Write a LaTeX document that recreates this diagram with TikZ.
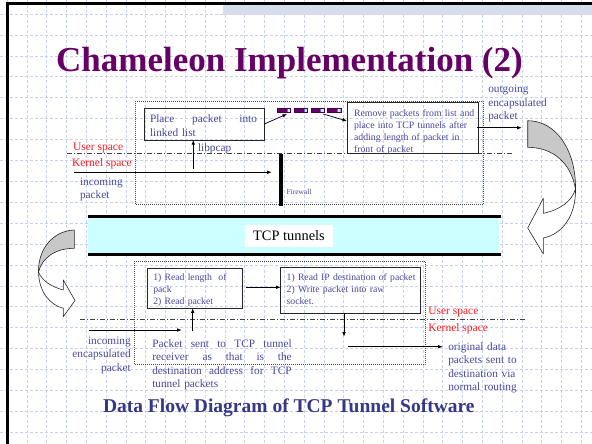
\documentclass[tikz,border=0pt]{standalone}
\usepackage{fontspec}
\setmainfont{Liberation Serif}
\usetikzlibrary{arrows.meta}
\definecolor{titlepurple}{HTML}{660066}
\definecolor{labelblue}{HTML}{48489A}
\definecolor{footblue}{HTML}{373787}
\definecolor{spacered}{HTML}{FF1A1A}
\definecolor{tunnelcyan}{HTML}{CCFFFF}
\definecolor{gridblue}{HTML}{C8D2F0}
\definecolor{bandgray}{HTML}{D5DCEC}
\definecolor{arrowgray}{HTML}{C8C8C8}
\definecolor{cellend}{HTML}{BFEFFF}
% a full-width line whose words are spread apart
\newcommand{\spreadline}[1]{\leavevmode\hbox to \linewidth{#1}}
\begin{document}
\begin{tikzpicture}[x=1pt,y=-1pt,
  every node/.style={inner sep=0pt,outer sep=0pt},
  lbl/.style={text=labelblue,font=\fontsize{11.3}{13.6}\selectfont,anchor=base west},
  smalllbl/.style={text=labelblue,font=\fontsize{9.7}{12.3}\selectfont,anchor=base west},
  spacelbl/.style={text=spacered,font=\fontsize{11.5}{13.6}\selectfont,anchor=base west},
  procbox/.style={draw=black!85,line width=0.7pt,anchor=north west},
  zone/.style={draw=black!70,line width=0.5pt,dash pattern=on 1pt off 1pt},
  spacesep/.style={draw=black!75,line width=0.6pt,dash pattern=on 5pt off 2pt on 1pt off 2pt},
  flow/.style={-{Latex[length=4.5pt,width=3.5pt]},line width=0.7pt},
  bendarrow/.style={draw=black!85,line width=0.6pt,line join=round},
  listcell/.style={draw=titlepurple!70!black,fill=titlepurple,line width=0.3pt,
    minimum width=13.3pt,minimum height=4pt,anchor=north west,
    path picture={\fill[cellend,draw=blue!60] ([xshift=-3.5pt]path picture bounding box.north east) rectangle (path picture bounding box.south east);}},
]
\useasboundingbox (0,0) rectangle (592,444);
\fill[white] (0,0) rectangle (592,444);

% background grid
\foreach \gx in {7.1,26.9,...,592}
  \draw[gridblue,line width=0.6pt,dash pattern=on 3pt off 2pt] (\gx,0) -- (\gx,444);
\foreach \gy in {14.1,35,...,444}
  \draw[gridblue,line width=0.6pt,dash pattern=on 3pt off 2pt] (0,\gy) -- (592,\gy);

% slide frame and top band
\fill[bandgray] (223,5) rectangle (592,15);
\draw[line width=2.5pt] (7.5,3.5) -- (7.5,444);
\draw[line width=2.5pt] (6.25,3.5) -- (592,3.5);

% title
\node[font=\fontsize{35}{40}\selectfont\bfseries,text=titlepurple,anchor=base] (title) at (289.5,72) {Chameleon Implementation (2)};

% ---------- sending side ----------
\draw[zone] (135,101) rectangle (483,204.5);
\draw[spacesep] (67,153.3) -- (513,153.3);

\node[procbox,minimum width=120pt,minimum height=31.7pt] (placebox) at (144,108.3) {};
\node[lbl,text width=107pt,align=left] (placetext) at (150,122.5)
  {\spreadline{Place\hfill packet\hfill into}\\linked list};

\node[listcell] (blk1) at (277,107.7) {};
\node[listcell] (blk2) at (294,107.7) {};
\node[listcell] (blk3) at (310.7,107.7) {};
\node[listcell] (blk4) at (327.4,107.7) {};

\node[procbox,minimum width=131pt,minimum height=50.6pt] (removebox) at (347.3,102.7) {};
\node[text=labelblue,font=\fontsize{9.8}{12.2}\selectfont,anchor=base west,text width=140pt,align=left] (removetext) at (354,116)
  {Remove packets from list and\\place into TCP tunnels after\\adding length of packet in\\front of packet};

\coordinate (listin) at (287,114);
\coordinate (listout) at (323.3,114);
\coordinate (removein) at (347,121);
\draw[flow] (placebox.east) -- (listin);
\draw[flow] (listout) -- (removein);

\coordinate (outstart) at (477,127.7);
\coordinate (outend) at (521.7,127.7);
\draw[flow] (outstart) -- (outend);
\node[lbl,text width=70pt,align=left] (outgoing) at (488.3,92.5) {outgoing\\encapsulated\\packet};

\node[spacelbl] (userup) at (73,150) {User space};
\node[spacelbl] (kernelup) at (72,166) {Kernel space};
\node[lbl,text width=50pt,align=left] (incomingup) at (80,185) {incoming\\packet};

\coordinate (inup) at (74,172.3);
\coordinate (fwhit) at (271.7,172.3);
\draw[flow] (inup) -- (fwhit);

\coordinate (pcapfoot) at (193.3,169);
\draw[flow] (pcapfoot) -- (pcapfoot |- placebox.south);
\node[lbl] (libpcap) at (198,151) {libpcap};

\node[fill=black,minimum width=4pt,minimum height=52pt,anchor=north] (firewall) at (280.5,154) {};
\node[text=labelblue,font=\fontsize{7.5}{9}\selectfont,anchor=base west] (fwtext) at (286.5,194.5) {Firewall};

% ---------- tunnel ----------
\fill[tunnelcyan] (88.3,216) rectangle (499,254);
\draw[line width=3pt] (88.3,216) -- (500.7,216);
\draw[line width=3pt] (88.3,254) -- (500.7,254);
\node[fill=white,minimum width=88pt,minimum height=22pt,font=\fontsize{14.4}{16}\selectfont] (tcplbl) at (289,236) {TCP tunnels};

% bent arrow on the right, going down into the tunnel
\fill[arrowgray] (527.7,120.7) .. controls (556,120.7) and (576,150) .. (575.5,189)
  .. controls (571,163) and (553,147.3) .. (527.7,147.3) -- cycle;
\draw[bendarrow] (527.7,147.3) -- (527.7,120.7) .. controls (556,120.7) and (576,150) .. (575.5,189)
  .. controls (571,163) and (553,147.3) .. (527.7,147.3);
\draw[bendarrow,fill=white] (575.5,189) .. controls (576,215) and (563,234) .. (543.3,238)
  -- (543.3,254) -- (527.7,228) -- (543.3,198.3) -- (543.3,213.3)
  .. controls (560,210) and (572,201) .. (575.5,189) -- cycle;

% bent arrow on the left, coming out of the tunnel
\fill[arrowgray] (74.3,230) .. controls (52,231) and (38,250) .. (38.5,272)
  .. controls (42,258) and (55,248.3) .. (74.3,248.3) -- cycle;
\draw[bendarrow] (74.3,248.3) -- (74.3,230) .. controls (52,231) and (38,250) .. (38.5,272)
  .. controls (42,258) and (55,248.3) .. (74.3,248.3);
\draw[bendarrow,fill=white] (38.5,272) .. controls (39,292) and (50,305) .. (63.3,308.3)
  -- (63.3,316.7) -- (75,300.5) -- (63.3,280) -- (63.3,290)
  .. controls (52,287) and (42,281) .. (38.5,272) -- cycle;

% ---------- receiving side ----------
\draw[zone] (134,261) rectangle (425,364.3);
\draw[spacesep] (80,319) -- (527,319);

\node[procbox,minimum width=95pt,minimum height=40pt] (readbox) at (147.3,268.3) {};
\node[smalllbl,text width=90pt,align=left] (readtext) at (153.3,280)
  {1) Read length~ of\\pack\\2) Read packet};

\node[procbox,minimum width=140pt,minimum height=46pt] (rawbox) at (280.7,267.3) {};
\node[smalllbl,text width=134pt,align=left] (rawtext) at (286.7,280)
  {1) Read IP destination of packet\\2) Write packet into raw\\socket.};

\draw[flow] (readbox.east |- 0,287.3) ++(3.7,0) -- (rawbox.west |- 0,287.3);

\coordinate (rawdown) at (344,336.7);
\draw[flow] (rawbox.south -| rawdown) -- (rawdown);

\node[spacelbl] (userdown) at (428.3,314.5) {User space};
\node[spacelbl] (kerneldown) at (428.3,331) {Kernel space};

\coordinate (origstart) at (348.3,346.7);
\coordinate (origend) at (442.7,346.7);
\draw[flow] (origstart) -- (origend);
\node[lbl,text width=80pt,align=left] (origtext) at (448.3,350)
  {original data\\packets sent to\\destination via\\normal routing};

\coordinate (readfoot) at (192.7,331);
\draw[flow] (readfoot) -- (readfoot |- readbox.south);

\coordinate (indown) at (89.3,330);
\coordinate (indownend) at (181.7,330);
\draw[flow] (indown) -- (indownend);
\node[text=labelblue,font=\fontsize{11.3}{13.6}\selectfont,anchor=base east,text width=70pt,align=right] (incomingdown) at (130.7,344)
  {incoming\\encapsulated\\packet};

\node[lbl,text width=139.4pt,align=left] (senttext) at (152.3,347)
  {\spreadline{Packet\hfill sent\hfill to\hfill TCP\hfill tunnel}\\
   \spreadline{receiver\hfill as\hfill that\hfill is\hfill the}\\
   \spreadline{destination\hfill address\hfill for\hfill TCP}\\
   tunnel packets};

% caption
\node[anchor=base west,font=\fontsize{19.5}{22}\selectfont\bfseries,text=footblue] (footer) at (103,412.5)
  {Data Flow Diagram of TCP Tunnel Software};
\end{tikzpicture}
\end{document}
